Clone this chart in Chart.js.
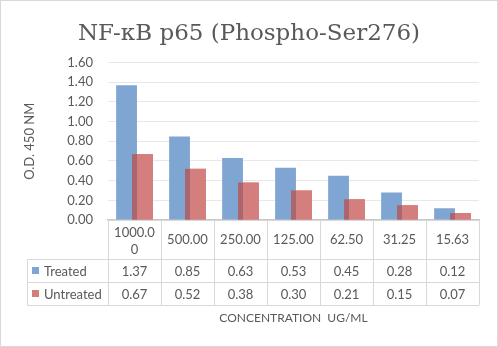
<!DOCTYPE html>
<html>
<head>
<meta charset="utf-8">
<script src="https://cdn.jsdelivr.net/npm/chart.js@4/dist/chart.umd.min.js"></script>
<style>
  html, body { margin: 0; padding: 0; background: #fff; }
  #wrap { width: 498px; height: 347px; }
</style>
</head>
<body>
<div id="wrap"><canvas id="odChart" width="498" height="347"></canvas></div>
<script>
var concentrations = ['1000.00', '500.00', '250.00', '125.00', '62.50', '31.25', '15.63'];
var treated = [1.37, 0.85, 0.63, 0.53, 0.45, 0.28, 0.12];
var untreated = [0.67, 0.52, 0.38, 0.30, 0.21, 0.15, 0.07];
var seriesNames = ['Treated', 'Untreated'];
var seriesColors = ['#7fa6d2', '#d47e7e'];

var textColor = '#595959';
var lineColor = '#d9d9d9';
var baseFont = 'Lato, "Liberation Sans", sans-serif';

// excel-ish data table under the plot, positions come from the x scale
var dataTable = {
    id: 'dataTable',
    beforeDraw: function(chart) {
        var c = chart.ctx;
        c.save();
        c.fillStyle = '#fff';
        c.fillRect(0, 0, chart.width, chart.height);
        c.strokeStyle = lineColor;
        c.lineWidth = 1;
        c.strokeRect(0.5, 0.5, chart.width - 1, chart.height - 1);
        c.restore();
    },
    afterDatasetsDraw: function(chart) {
        // darker strip where the two bars overlap
        var c = chart.ctx;
        var a = chart.getDatasetMeta(0).data;
        var b = chart.getDatasetMeta(1).data;
        c.save();
        for (var i = 0; i < a.length; i++) {
            var x0 = b[i].x - b[i].width / 2;
            var x1 = a[i].x + a[i].width / 2;
            // untreated drawn on top of treated
            c.fillStyle = seriesColors[1];
            c.fillRect(x0, b[i].y, b[i].width, b[i].base - b[i].y);
            var top = Math.max(a[i].y, b[i].y);
            c.fillStyle = '#a9666f';
            if (x1 > x0) c.fillRect(x0, top, x1 - x0, b[i].base - top);
        }
        c.restore();
    },
    afterDraw: function(chart) {
        var c = chart.ctx;
        var xs = chart.scales.x;
        var area = chart.chartArea;
        var n = concentrations.length;
        var step = xs.getPixelForValue(1) - xs.getPixelForValue(0);
        var left = area.left, right = area.right;
        var top = area.bottom;
        var headH = 39, rowH = 23;
        var legLeft = 27;
        var rows = [treated, untreated];

        c.save();
        c.strokeStyle = lineColor;
        c.lineWidth = 1;
        c.beginPath();
        // horizontal lines
        c.moveTo(legLeft, top + headH + 0.5); c.lineTo(right, top + headH + 0.5);
        c.moveTo(legLeft, top + headH + rowH + 0.5); c.lineTo(right, top + headH + rowH + 0.5);
        c.moveTo(legLeft, top + headH + 2 * rowH + 0.5); c.lineTo(right, top + headH + 2 * rowH + 0.5);
        // vertical lines
        for (var i = 0; i <= n; i++) {
            var x = Math.round(left + i * step) + 0.5;
            c.moveTo(x, top); c.lineTo(x, top + headH + 2 * rowH);
        }
        c.moveTo(legLeft + 0.5, top + headH); c.lineTo(legLeft + 0.5, top + headH + 2 * rowH);
        c.stroke();

        c.fillStyle = textColor;
        c.font = '13px ' + baseFont;
        c.textAlign = 'center';
        c.textBaseline = 'middle';
        for (var i = 0; i < n; i++) {
            var cx = xs.getPixelForValue(i);
            var lab = concentrations[i];
            if (c.measureText(lab).width > step - 8) {
                c.fillText(lab.slice(0, 6), cx, top + 13);
                c.fillText(lab.slice(6), cx, top + 30);
            } else {
                c.fillText(lab, cx, top + headH / 2);
            }
            for (var r = 0; r < rows.length; r++) {
                c.fillText(rows[r][i].toFixed(2), cx, top + headH + r * rowH + rowH / 2 + 1);
            }
        }
        // legend keys in the table
        c.textAlign = 'left';
        for (var r = 0; r < rows.length; r++) {
            var cy = top + headH + r * rowH + rowH / 2;
            c.fillStyle = seriesColors[r];
            c.fillRect(legLeft + 5, cy - 3.5, 7, 7);
            c.fillStyle = textColor;
            c.fillText(seriesNames[r], legLeft + 17, cy + 1);
        }
        // axis title under the table
        c.textAlign = 'center';
        c.font = '12px ' + baseFont;
        c.fillText('CONCENTRATION  UG/ML', (left + right) / 2, top + headH + 2 * rowH + 13);
        c.restore();
    }
};

document.addEventListener('DOMContentLoaded', function() {
    var ctx = document.getElementById('odChart').getContext('2d');
    var odChart = new Chart(ctx, {
        type: 'bar',
        data: {
            labels: concentrations,
            datasets: [{
                label: seriesNames[0],
                data: treated,
                backgroundColor: seriesColors[0]
            }, {
                label: seriesNames[1],
                data: untreated,
                backgroundColor: seriesColors[1]
            }]
        },
        plugins: [dataTable],
        options: {
            responsive: false,
            animation: false,
            datasets: {
                bar: { categoryPercentage: 0.6, barPercentage: 1.31 }
            },
            layout: { padding: 0 },
            plugins: {
                legend: { display: false },
                tooltip: { enabled: false },
                title: {
                    display: true,
                    text: 'NF-κB p65 (Phospho-Ser276)',
                    color: textColor,
                    font: { family: '"DejaVu Serif", serif', size: 23, weight: 'normal' },
                    padding: { top: 20, bottom: 15 }
                }
            },
            scales: {
                x: {
                    grid: { display: false },
                    border: { color: '#c8c8c8', width: 1.5 },
                    ticks: { display: false },
                    afterFit: function(scale) { scale.height = 127; }
                },
                y: {
                    min: 0,
                    max: 1.6,
                    ticks: {
                        stepSize: 0.2,
                        color: textColor,
                        font: { family: baseFont, size: 13 },
                        padding: 15,
                        callback: function(v) { return v.toFixed(2); }
                    },
                    grid: { color: '#e8e8e8', drawTicks: false },
                    border: { display: false },
                    title: {
                        display: true,
                        text: 'O.D. 450 NM',
                        color: textColor,
                        font: { family: baseFont, size: 13 },
                        padding: { top: 22, bottom: 0 }
                    },
                    afterFit: function(scale) { scale.width = 108; }
                },
                // empty right-hand spacer so the plot ends where the reference's does
                spacer: {
                    position: 'right',
                    grid: { display: false },
                    border: { display: false },
                    ticks: { display: false },
                    afterFit: function(scale) { scale.width = 19; }
                }
            }
        }
    });
});
</script>
</body>
</html>
